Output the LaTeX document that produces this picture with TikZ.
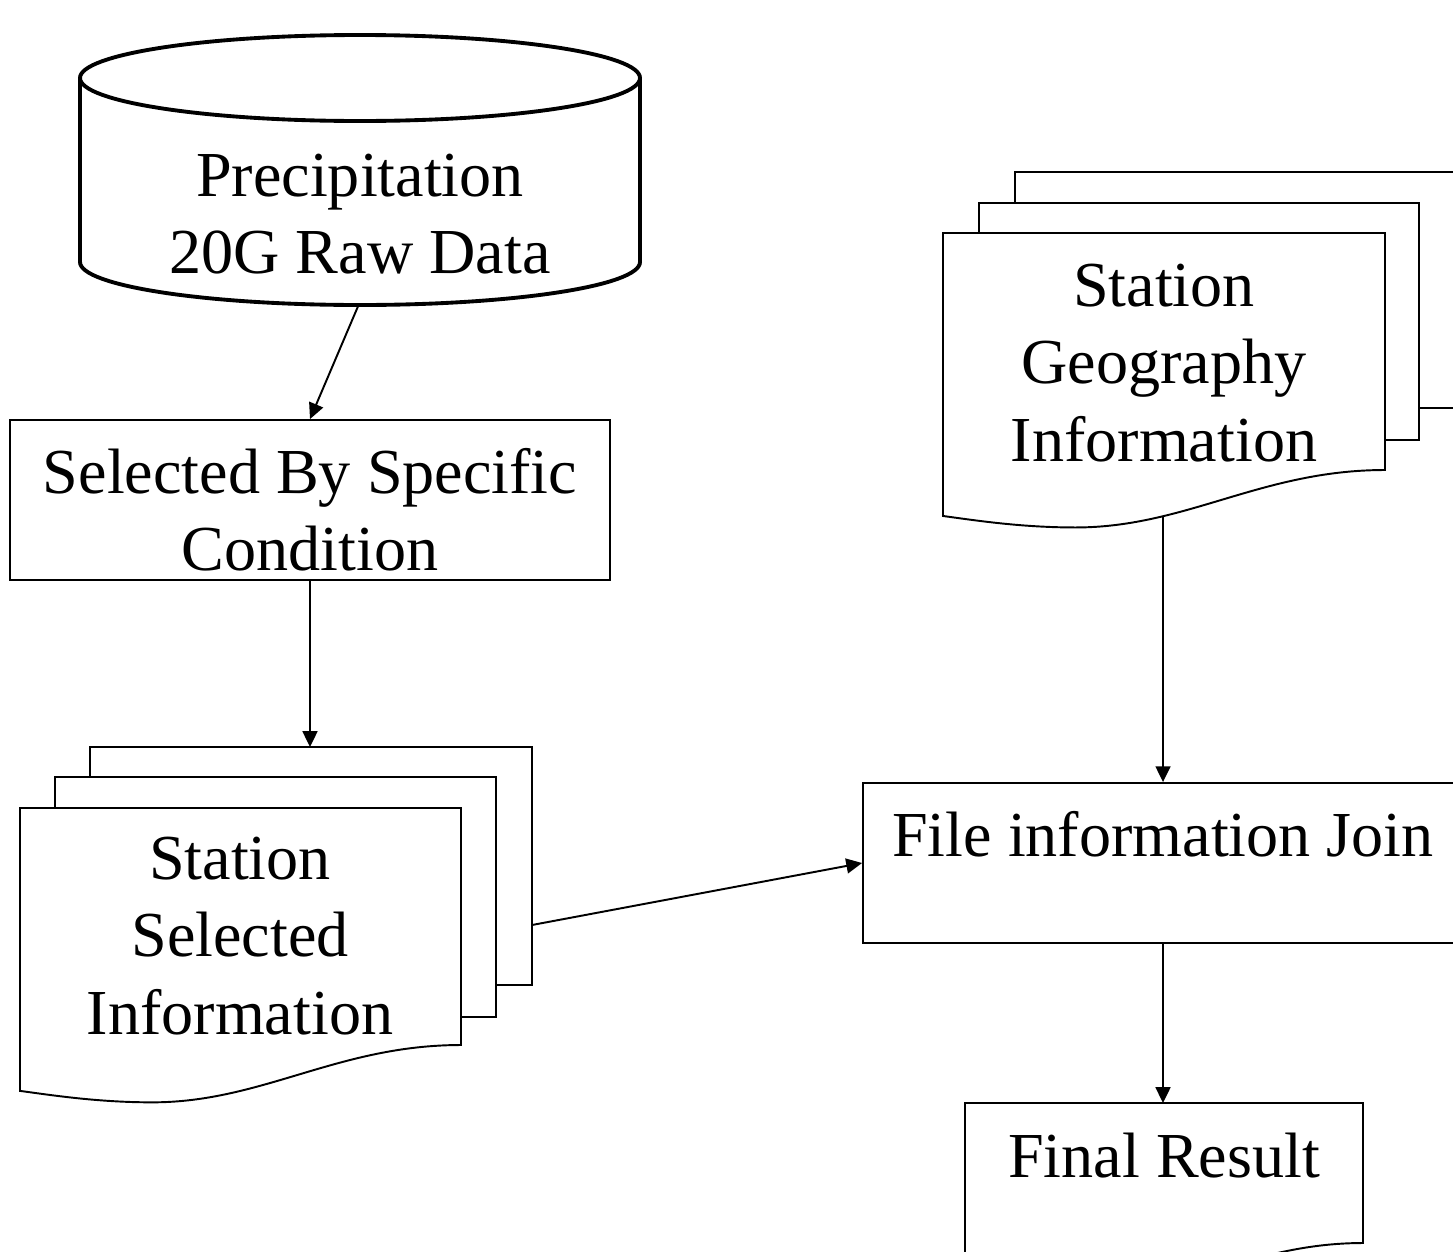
\documentclass[tikz,border=0pt]{standalone}
\usepackage{fontspec}
\setmainfont{Liberation Serif}
\usetikzlibrary{positioning,arrows.meta}

\tikzset{
  txt/.style={align=center, font=\fontsize{36.5pt}{44pt}\selectfont, inner sep=0pt},
  box/.style={txt, draw, line width=1.1pt, minimum width=12cm, minimum height=3.2cm},
  page/.style={line width=1.1pt},
  cyl/.style={line width=2.2pt},
  arr/.style={line width=1.1pt, -{Triangle[length=9pt,width=8.5pt]}},
}

% document outline: left, top, width, height at the right edge
\newcommand{\docshape}[4]{%
  \draw[page] (#1,#2) -- ({#1+#3},#2) -- ({#1+#3},{#2+#4})
    .. controls ({#1+0.72*#3},{#2+#4}) and ({#1+0.55*#3},{#2+#4+0.13*#3}) .. ({#1+0.3*#3},{#2+#4+0.13*#3})
    .. controls ({#1+0.18*#3},{#2+#4+0.13*#3}) and ({#1+0.08*#3},{#2+#4+0.115*#3}) .. (#1,{#2+#4+0.104*#3}) -- cycle;}

\begin{document}
\begin{tikzpicture}[x=0.02cm,y=-0.02cm]
    \useasboundingbox (0,0) rectangle (1453,1251);
    \clip (0,0) rectangle (1453,1251);
    % raw data store
    \draw[cyl] (360,78) ellipse [x radius=280, y radius=43];
    \draw[cyl] (80,78) -- (80,262) arc [start angle=180, end angle=0, x radius=280, y radius=43] -- (640,78);
    \node[txt] (raw) at (360,214) {Precipitation\\20G Raw Data};
    \coordinate (raw-out) at (359,304);
    \node[box] (cond) at (310,500) {\rule{0pt}{37pt}Selected By Specific\\Condition};
    % selected stations
    \draw[page] (90,777) -- (90,747) -- (532,747) -- (532,985) -- (496,985);
    \draw[page] (55,808) -- (55,777) -- (496,777) -- (496,1017) -- (461,1017);
    \docshape{20}{808}{441}{237}
    \node[txt] (sel) at (240,936) {Station\\Selected\\Information};
    \coordinate (sel-top) at (310,747);
    \coordinate (sel-out) at (532,925);
    % geography
    \draw[page] (1015,203) -- (1015,172) -- (1456,172) -- (1456,408) -- (1419,408);
    \draw[page] (979,233) -- (979,203) -- (1419,203) -- (1419,440) -- (1385,440);
    \docshape{943}{233}{442}{237}
    \node[txt] (geo) at (1164,363) {Station\\Geography\\Information};
    \coordinate (geo-out) at (1163,517);
    \node[box] (join) at (1163,863) {File information Join\\[-11pt]\mbox{}};
    \docshape{965}{1103}{398}{140}
    \node[txt] (final) at (1164,1156) {Final Result};
    \coordinate (final-top) at (1163,1103);
    \draw[arr] (raw-out) -- (cond.north);
    \draw[arr] (cond.south) -- (sel-top);
    \draw[arr] (sel-out) -- (join.west);
    \draw[arr] (geo-out) -- (join.north);
    \draw[arr] (join.south) -- (final-top);
\end{tikzpicture}
\end{document}
